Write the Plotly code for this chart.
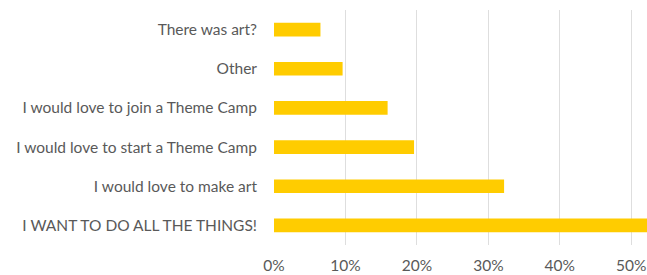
import plotly.graph_objects as go

categories = [
    "I WANT TO DO ALL THE THINGS!",
    "I would love to make art",
    "I would love to start a Theme Camp",
    "I would love to join a Theme Camp",
    "Other",
    "There was art?",
]
values = [52.5, 32.2, 19.6, 15.9, 9.6, 6.5]
tick_vals = [0, 10, 20, 30, 40, 50]
tick_text = ["0%", "10%", "20%", "30%", "40%", "50%"]

fig = go.Figure(
    go.Bar(
        y=categories,
        x=values,
        orientation="h",
        marker=dict(color="#FFCC00", line=dict(width=0)),
        width=0.35,
    )
)

fig.update_layout(
    width=647,
    height=275,
    margin=dict(l=274, r=0, t=10, b=30),
    paper_bgcolor="white",
    plot_bgcolor="white",
    font=dict(family="Lato, Open Sans, sans-serif", size=15.5, color="#595959"),
    showlegend=False,
)
fig.update_xaxes(
    range=[0, 52.2],
    tickvals=tick_vals,
    ticktext=tick_text,
    showgrid=True,
    gridcolor="#dedede",
    gridwidth=1,
    zeroline=False,
    showline=False,
    ticks="",
    ticklabelstandoff=9,
    automargin=False,
    fixedrange=True,
)
fig.update_yaxes(
    showgrid=False,
    zeroline=False,
    showline=False,
    ticks="",
    ticklabelstandoff=16,
    automargin=False,
    fixedrange=True,
)

fig.write_html(
    "out.html",
    config={"displayModeBar": False},
    post_script="document.body.style.margin='0';document.body.style.overflow='hidden';",
)
